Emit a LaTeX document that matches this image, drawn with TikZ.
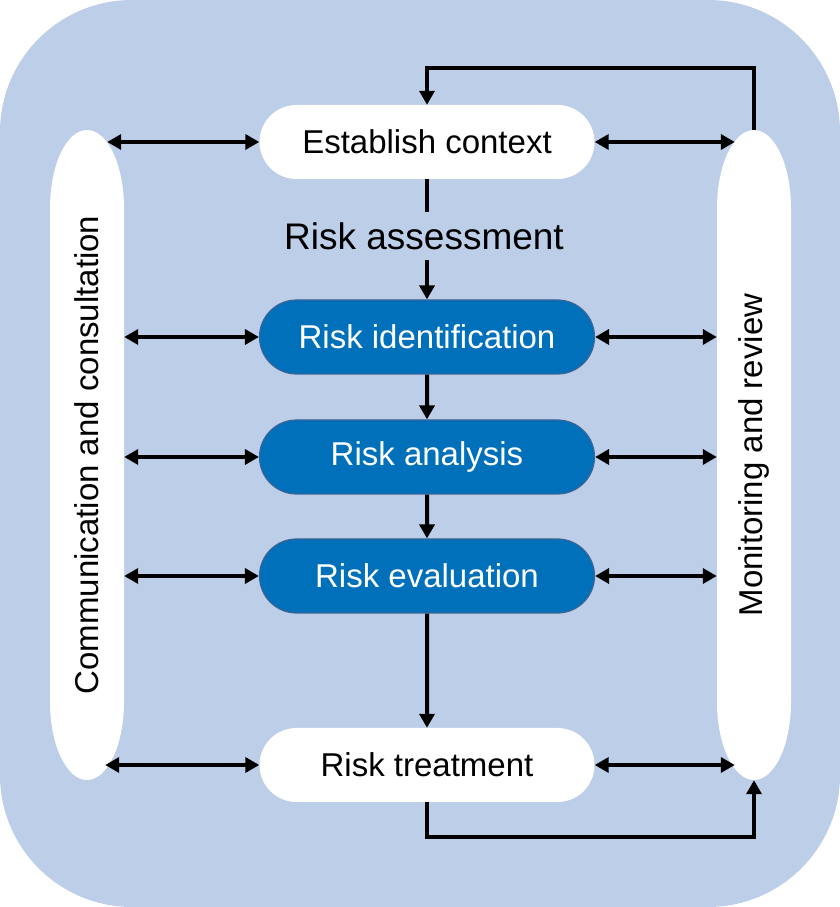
\documentclass[tikz,border=0pt]{standalone}
\usepackage{fontspec}
\setmainfont{Liberation Sans}
\usetikzlibrary{shapes.misc,arrows.meta}
\begin{document}
\begin{tikzpicture}[x=1pt,y=1pt,
  pill/.style={rounded rectangle, minimum width=335pt, minimum height=74pt, inner sep=0pt, font=\fontsize{33}{40}\selectfont},
  whitepill/.style={pill, fill=white},
  bluepill/.style={pill, fill=riskblue, draw=riskedge, line width=1.2pt, text=white},
  sidetext/.style={rotate=90, minimum width=650pt, minimum height=74pt, inner sep=0pt, font=\fontsize{33}{40}\selectfont},
  link/.style={line width=4pt},
  arr/.style={link, -{Triangle[length=14pt,width=15pt]}},
  dbl/.style={link, {Triangle[length=14pt,width=15pt]}-{Triangle[length=14pt,width=15pt]}}]
\definecolor{bgblue}{RGB}{189,206,232}
\definecolor{riskblue}{RGB}{0,112,186}
\definecolor{riskedge}{RGB}{62,100,150}

\useasboundingbox (0,0) rectangle (840,907);
\fill[bgblue, rounded corners=132pt] (0,0) rectangle (840,907);

% side bands
\fill[white] (50,205) -- (50,699) arc[start angle=180, end angle=0, x radius=37, y radius=78]
  -- (124,205) arc[start angle=0, end angle=-180, x radius=37, y radius=78] -- cycle;
\fill[white] (717,205) -- (717,699) arc[start angle=180, end angle=0, x radius=37, y radius=78]
  -- (791,205) arc[start angle=0, end angle=-180, x radius=37, y radius=78] -- cycle;

\node[sidetext] (comm) at (87,452) {Communication and consultation};
\node[sidetext] (monit) at (754,452) {Monitoring and review};

\node[whitepill] (ctx) at (427,765) {Establish context};
\node[inner sep=10pt, font=\fontsize{37}{44}\selectfont] (assess) at (424,671) {Risk assessment};
\node[bluepill] (ident) at (427,570) {Risk identification};
\node[bluepill] (anal) at (427,450) {Risk analysis};
\node[bluepill] (evalu) at (427,331) {Risk evaluation};
\node[whitepill] (treat) at (427,142) {Risk treatment};

% main flow
\path[draw,link] (ctx.south) -- (ctx.south |- assess.north);
\path[draw,arr] (ctx.south |- assess.south) -- (ident.north);
\path[draw,arr] (ident) -- (anal);
\path[draw,arr] (anal) -- (evalu);
\path[draw,arr] (evalu) -- (treat);

% both sides
\path[draw,dbl,shorten <=-17pt] (comm.south |- ctx.west) -- (ctx.west);
\path[draw,dbl,shorten >=-18pt] (ctx.east) -- (monit.north |- ctx.east);
\foreach \n in {ident,anal,evalu} {
  \path[draw,dbl] (comm.south |- \n.west) -- (\n.west);
  \path[draw,dbl] (\n.east) -- (monit.north |- \n.east);
}
\path[draw,dbl,shorten <=-19pt] (comm.south |- treat.west) -- (treat.west);
\path[draw,dbl,shorten >=-18pt] (treat.east) -- (monit.north |- treat.east);

% loops
\path[draw,arr] (treat.south) -- ++(0,-35) -| (monit.west);
\path[draw,arr] (monit.east) -- ++(0,62) -| (ctx.north);
\end{tikzpicture}
\end{document}
